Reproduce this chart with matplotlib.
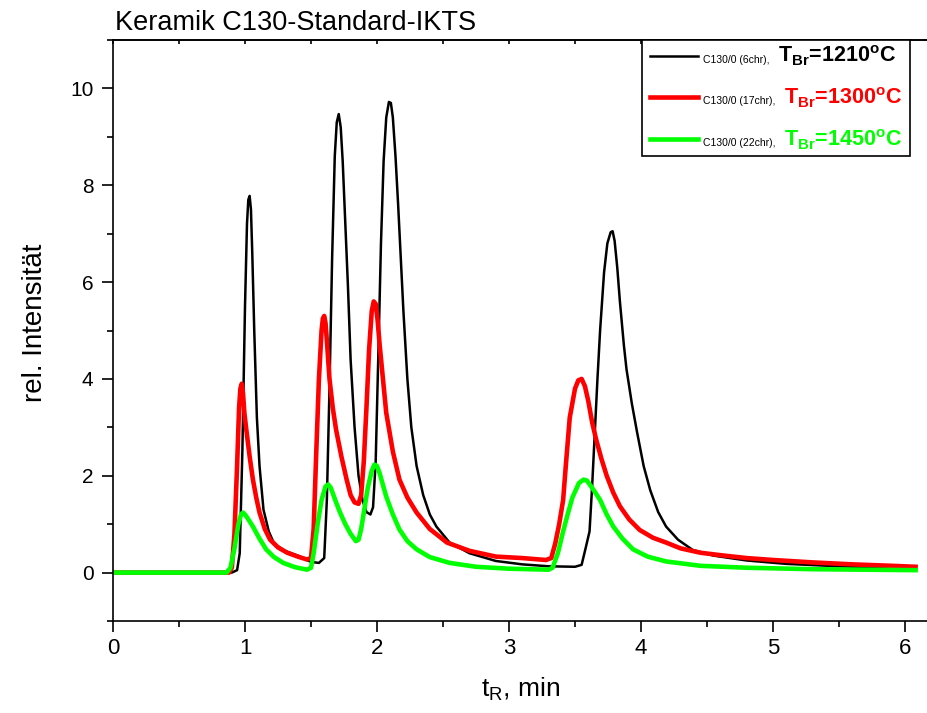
import matplotlib
matplotlib.use("Agg")
import matplotlib.pyplot as plt
from matplotlib.ticker import MultipleLocator

plt.rcParams['font.family'] = ['Liberation Sans', 'DejaVu Sans']
plt.rcParams['mathtext.fontset'] = 'custom'
plt.rcParams['mathtext.rm'] = 'Liberation Sans'
plt.rcParams['mathtext.bf'] = 'Liberation Sans:bold'

# retention time (min) and relative intensity
t_1210 = [0.0, 0.5, 0.9, 0.94, 0.96, 0.98, 1.00, 1.015, 1.025, 1.035, 1.045, 1.055, 1.07, 1.09,
          1.11, 1.14, 1.18, 1.22, 1.30, 1.40, 1.50, 1.56, 1.60, 1.62, 1.64, 1.66, 1.68, 1.695,
          1.71, 1.725, 1.74, 1.76, 1.78, 1.80, 1.83, 1.86, 1.89, 1.92, 1.95, 1.97, 1.99, 2.01,
          2.03, 2.05, 2.07, 2.09, 2.105, 2.12, 2.14, 2.16, 2.18, 2.20, 2.23, 2.26, 2.30, 2.35,
          2.40, 2.45, 2.55, 2.70, 2.90, 3.10, 3.30, 3.50, 3.55, 3.58, 3.61, 3.63, 3.65, 3.67,
          3.69, 3.72, 3.745, 3.77, 3.785, 3.80, 3.82, 3.84, 3.87, 3.89, 3.93, 3.97, 4.02, 4.07,
          4.13, 4.19, 4.28, 4.39, 4.55, 4.80, 5.10, 5.50, 5.80, 6.08]
y_1210 = [0.0, 0.0, 0.0, 0.05, 0.4, 2.5, 5.5, 7.2, 7.7, 7.78, 7.5, 6.6, 5.0, 3.2,
          2.2, 1.3, 0.85, 0.6, 0.45, 0.35, 0.22, 0.2, 0.3, 1.5, 3.8, 6.5, 8.6, 9.3,
          9.47, 9.2, 8.5, 7.2, 5.9, 4.4, 3.0, 2.0, 1.5, 1.25, 1.2, 1.35, 2.3, 4.5,
          6.8, 8.5, 9.4, 9.72, 9.7, 9.4, 8.6, 7.6, 6.5, 5.4, 4.0, 3.0, 2.2, 1.6,
          1.2, 0.95, 0.62, 0.4, 0.24, 0.17, 0.13, 0.12, 0.16, 0.5, 0.85, 1.8, 2.9, 4.0,
          5.0, 6.2, 6.8, 7.03, 7.05, 6.85, 6.3, 5.6, 4.7, 4.2, 3.5, 2.9, 2.2, 1.7,
          1.25, 0.95, 0.68, 0.47, 0.35, 0.25, 0.18, 0.13, 0.1, 0.09]

t_1300 = [0.0, 0.5, 0.88, 0.90, 0.92, 0.94, 0.955, 0.965, 0.975, 0.985, 0.995, 1.01, 1.035, 1.06,
          1.085, 1.11, 1.15, 1.19, 1.25, 1.32, 1.40, 1.47, 1.50, 1.52, 1.54, 1.56, 1.58, 1.59,
          1.60, 1.61, 1.62, 1.64, 1.665, 1.69, 1.73, 1.77, 1.80, 1.83, 1.86, 1.88, 1.90, 1.92,
          1.94, 1.96, 1.975, 1.99, 2.005, 2.02, 2.045, 2.07, 2.12, 2.17, 2.23, 2.30, 2.40, 2.53,
          2.70, 2.90, 3.10, 3.28, 3.32, 3.35, 3.38, 3.41, 3.43, 3.46, 3.50, 3.525, 3.55, 3.575,
          3.60, 3.63, 3.66, 3.70, 3.74, 3.79, 3.84, 3.91, 3.99, 4.09, 4.19, 4.30, 4.45, 4.60,
          4.80, 5.00, 5.30, 5.60, 5.90, 6.08]
y_1300 = [0.0, 0.0, 0.0, 0.1, 0.8, 2.2, 3.4, 3.8, 3.9, 3.7, 3.3, 2.95, 2.4, 1.92,
          1.55, 1.24, 0.9, 0.68, 0.52, 0.41, 0.33, 0.27, 0.3, 0.9, 2.5, 4.0, 5.0, 5.25,
          5.3, 5.15, 4.8, 4.0, 3.4, 2.95, 2.4, 1.92, 1.6, 1.45, 1.42, 1.6, 2.3, 3.4,
          4.6, 5.4, 5.6, 5.55, 5.2, 4.7, 4.0, 3.3, 2.5, 1.92, 1.55, 1.24, 0.9, 0.62,
          0.45, 0.33, 0.3, 0.26, 0.3, 0.6, 1.0, 1.5, 2.2, 3.2, 3.8, 3.97, 4.0, 3.85,
          3.55, 3.1, 2.75, 2.35, 2.0, 1.65, 1.37, 1.1, 0.88, 0.72, 0.62, 0.5, 0.41, 0.36,
          0.3, 0.26, 0.21, 0.17, 0.14, 0.12]

t_1450 = [0.0, 0.5, 0.86, 0.89, 0.92, 0.95, 0.97, 0.985, 1.00, 1.03, 1.06, 1.11, 1.16, 1.22,
          1.29, 1.38, 1.47, 1.50, 1.52, 1.55, 1.58, 1.61, 1.63, 1.65, 1.69, 1.72, 1.76, 1.80,
          1.84, 1.86, 1.88, 1.90, 1.93, 1.96, 1.98, 2.00, 2.02, 2.07, 2.12, 2.17, 2.23, 2.30,
          2.40, 2.55, 2.75, 3.00, 3.30, 3.33, 3.37, 3.41, 3.44, 3.48, 3.53, 3.565, 3.59, 3.63,
          3.69, 3.74, 3.79, 3.86, 3.94, 4.05, 4.19, 4.45, 4.80, 5.30, 6.08]
y_1450 = [0.0, 0.0, 0.0, 0.1, 0.5, 1.0, 1.2, 1.24, 1.2, 1.08, 0.95, 0.7, 0.48, 0.32,
          0.2, 0.11, 0.06, 0.1, 0.4, 1.0, 1.5, 1.78, 1.82, 1.75, 1.45, 1.24, 1.0, 0.8,
          0.65, 0.68, 0.9, 1.24, 1.75, 2.1, 2.23, 2.2, 2.05, 1.57, 1.2, 0.89, 0.65, 0.48,
          0.32, 0.2, 0.12, 0.08, 0.06, 0.1, 0.4, 0.85, 1.16, 1.55, 1.85, 1.92, 1.9, 1.75,
          1.5, 1.2, 0.95, 0.7, 0.48, 0.33, 0.23, 0.14, 0.1, 0.07, 0.05]

small_labels = ['C130/0 (6chr),', 'C130/0 (17chr),', 'C130/0 (22chr),']
temps = ['1210', '1300', '1450']
colors = ['#000000', '#ff0000', '#00ff00']
widths = [1.8, 3.3, 3.3]

fig = plt.figure(figsize=(9.28, 7.13), dpi=100)
ax = fig.add_axes([113 / 928, 1 - 621 / 713, 815 / 928, 581 / 713])

series = [(t_1210, y_1210), (t_1300, y_1300), (t_1450, y_1450)]
lines = []
for (t, y), c, w in zip(series, colors, widths):
    ln, = ax.plot(t, y, color=c, lw=w, solid_joinstyle='round')
    lines.append(ln)

ax.set_xlim(0, 6.174)
ax.set_ylim(-1, 11)
ax.xaxis.set_major_locator(MultipleLocator(1))
ax.xaxis.set_minor_locator(MultipleLocator(0.5))
ax.yaxis.set_major_locator(MultipleLocator(2))
ax.yaxis.set_minor_locator(MultipleLocator(1))
ax.spines['right'].set_visible(False)
for s in ['left', 'bottom', 'top']:
    ax.spines[s].set_linewidth(1.2)
ax.tick_params(which='major', direction='out', length=8, width=1.2, labelsize=15)
ax.tick_params(which='minor', direction='out', length=4, width=1.2)
ax.tick_params(axis='x', pad=4, labelsize=16)
ax.tick_params(axis='y', pad=6)
for lab in ax.get_xticklabels():
    lab.set_family(['Liberation Sans Narrow', 'Liberation Sans'])

top = ax.secondary_xaxis('top')
top.xaxis.set_major_locator(MultipleLocator(0.5))
top.tick_params(direction='in', length=3, width=1.2, labeltop=False)
top.spines['top'].set_linewidth(1.2)

ax.set_ylabel('rel. Intensität', fontsize=20)
ax.yaxis.set_label_coords(-0.08, 0.513)
ax.set_xlabel('t$_\\mathregular{R}$, min', fontsize=19)
ax.xaxis.set_label_coords(0.5, -0.094)

fig.text(115 / 928, 1 - 30 / 713, 'Keramik C130-Standard-IKTS', fontsize=19.5, va='baseline')

leg = ax.legend(lines, small_labels, loc='upper left', mode='expand',
                bbox_to_anchor=((642 - 113) / 815, 0.5, (910 - 642) / 815, 0.5),
                borderaxespad=0, fontsize=15, fancybox=False, framealpha=1,
                edgecolor='black', handlelength=2.3, handletextpad=0.25,
                labelspacing=1.2, borderpad=0.4)
leg.get_frame().set_linewidth(1.2)
for txt, temp, c in zip(leg.get_texts(), temps, colors):
    txt.set_fontsize(7.5)
    ax.annotate('T$_{\\mathbf{Br}}$=' + temp + '$^{\\mathbf{o}}$C', xy=(1, 0), xycoords=txt,
                xytext=(6, 1.5), textcoords='offset points', va='baseline', ha='left',
                fontsize=15.5, fontweight='bold', color=c, zorder=10)

fig.savefig('out.png', dpi=100)
